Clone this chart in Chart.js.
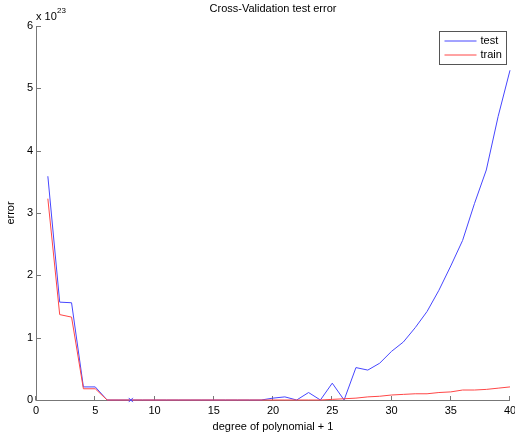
<!DOCTYPE html>
<html>
<head>
<meta charset="utf-8">
<script src="https://cdn.jsdelivr.net/npm/chart.js@4"></script>
<style>
  html, body { margin: 0; padding: 0; background: #fff; }
  #wrap { width: 515px; height: 436px; }
</style>
</head>
<body>
<div id="wrap"><canvas id="myChart" width="515" height="436"></canvas></div>
<script>
// degree of polynomial + 1
const degrees = Array.from({ length: 40 }, (_, i) => i + 1)

// error values, in units of 10^23
const testError = [
    3.59, 1.57, 1.56, 0.21, 0.21, 0.0, 0.0, 0.0, 0.0, 0.0,
    0.0, 0.0, 0.0, 0.0, 0.0, 0.0, 0.0, 0.0, 0.0, 0.03,
    0.05, 0.0, 0.12, 0.0, 0.27, 0.0, 0.52, 0.48, 0.59, 0.78,
    0.93, 1.16, 1.42, 1.76, 2.15, 2.56, 3.15, 3.69, 4.55, 5.29
]
const trainError = [
    3.23, 1.37, 1.33, 0.18, 0.18, 0.0, 0.0, 0.0, 0.0, 0.0,
    0.0, 0.0, 0.0, 0.0, 0.0, 0.0, 0.0, 0.0, 0.0, 0.0,
    0.0, 0.0, 0.0, 0.0, 0.01, 0.02, 0.03, 0.05, 0.06, 0.08,
    0.09, 0.10, 0.10, 0.12, 0.13, 0.16, 0.16, 0.17, 0.19, 0.21
]
// the marked minimum
const markX = [8]
const markY = [0]

const xTicks = [0, 5, 10, 15, 20, 25, 30, 35, 40]
const yTicks = [0, 1, 2, 3, 4, 5, 6]

const FONT = '"Liberation Sans", Arial, sans-serif'
const AXIS = '#777'

const toPoints = (xs, ys) => xs.map((x, i) => ({ x: x, y: ys[i] }))

// Texts, axes, inner ticks and legend, matlab style
const matlabFrame = {
    id: 'matlabFrame',
    beforeDatasetsDraw(chart) {
        const { ctx, chartArea: a, scales } = chart
        const xs = scales.x, ys = scales.y
        ctx.save()
        ctx.strokeStyle = AXIS
        ctx.lineWidth = 1
        ctx.beginPath()
        ctx.moveTo(a.left + 0.5, a.top)
        ctx.lineTo(a.left + 0.5, a.bottom + 0.5)
        ctx.lineTo(a.right, a.bottom + 0.5)
        xTicks.forEach(t => {
            const px = Math.round(xs.getPixelForValue(t)) - 0.5
            ctx.moveTo(px, a.bottom + 0.5); ctx.lineTo(px, a.bottom - 4)
        })
        yTicks.forEach(t => {
            const py = Math.round(ys.getPixelForValue(t)) + 0.5
            ctx.moveTo(a.left, py); ctx.lineTo(a.left + 5, py)
        })
        ctx.stroke()
        ctx.restore()
    },
    afterDraw(chart) {
        const { ctx, chartArea: a } = chart
        ctx.save()
        ctx.fillStyle = '#000'
        ctx.font = '11px ' + FONT
        ctx.textAlign = 'center'
        ctx.textBaseline = 'middle'
        ctx.fillText('Cross-Validation test error', (a.left + a.right) / 2, 9)
        ctx.fillText('degree of polynomial + 1', (a.left + a.right) / 2, 427)

        ctx.save()
        ctx.translate(11, (a.top + a.bottom) / 2)
        ctx.rotate(-Math.PI / 2)
        ctx.fillText('error', 0, 0)
        ctx.restore()

        ctx.textAlign = 'left'
        ctx.fillText('x 10', a.left, 17)
        ctx.font = '8px ' + FONT
        ctx.fillText('23', a.left + 21, 11)

        // legend
        const lx = 439.5, ly = 31.5, lw = 67, lh = 33
        ctx.fillStyle = '#fff'
        ctx.fillRect(lx, ly, lw, lh)
        ctx.strokeStyle = '#555'
        ctx.lineWidth = 1
        ctx.strokeRect(lx, ly, lw, lh)
        ctx.font = '11px ' + FONT
        chart.data.datasets.filter(d => d.inLegend).forEach((d, i) => {
            const y = ly + 9.5 + i * 14
            ctx.strokeStyle = d.borderColor
            ctx.beginPath()
            ctx.moveTo(lx + 5, y); ctx.lineTo(lx + 37, y)
            ctx.stroke()
            ctx.fillStyle = '#000'
            ctx.fillText(d.label, lx + 41, y)
        })
        ctx.restore()
    }
}

const ctx = document.getElementById('myChart').getContext('2d')
const myChart = new Chart(ctx, {
    type: 'line',
    data: {
        datasets: [
            {
                label: 'test',
                inLegend: true,
                order: 2,
                data: toPoints(degrees, testError),
                borderColor: 'rgb(70,70,255)',
                borderWidth: 1,
                pointRadius: 0,
                tension: 0,
                clip: 4
            },
            {
                label: 'train',
                inLegend: true,
                order: 1,
                data: toPoints(degrees, trainError),
                borderColor: 'rgb(255,70,70)',
                borderWidth: 1,
                pointRadius: 0,
                tension: 0,
                clip: 4
            },
            {
                label: 'min',
                inLegend: false,
                order: 0,
                data: toPoints(markX, markY),
                showLine: false,
                borderColor: 'rgb(70,70,255)',
                pointStyle: 'crossRot',
                pointRadius: 3,
                pointBorderWidth: 1,
                clip: 6
            }
        ]
    },
    options: {
        responsive: false,
        animation: false,
        layout: { padding: { left: 0, right: 4, top: 26, bottom: 0 } },
        plugins: {
            legend: { display: false },
            tooltip: { enabled: false },
            title: { display: false }
        },
        scales: {
            x: {
                type: 'linear',
                min: 0,
                max: 40,
                afterBuildTicks: s => { s.ticks = xTicks.map(v => ({ value: v })) },
                afterFit: s => { s.height = 36; s.paddingLeft = 0; s.paddingRight = 0 },
                grid: { display: false, drawTicks: false },
                border: { display: false },
                ticks: { color: '#000', font: { family: FONT, size: 11 }, padding: 4, maxRotation: 0 }
            },
            y: {
                min: 0,
                max: 6,
                afterBuildTicks: s => { s.ticks = yTicks.map(v => ({ value: v })) },
                afterFit: s => { s.width = 36; s.paddingTop = 0; s.paddingBottom = 0 },
                grid: { display: false, drawTicks: false },
                border: { display: false },
                ticks: { color: '#000', font: { family: FONT, size: 11 }, padding: 3 }
            }
        }
    },
    plugins: [matlabFrame]
})
</script>
</body>
</html>
